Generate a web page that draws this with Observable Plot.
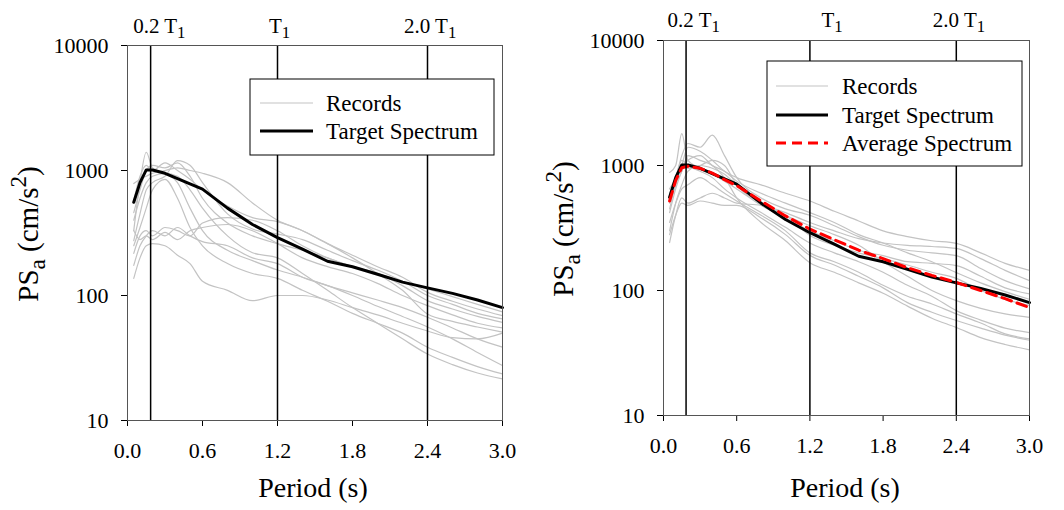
<!DOCTYPE html>
<html><head><meta charset="utf-8">
<script src="https://cdn.jsdelivr.net/npm/d3@7"></script>
<script src="https://cdn.jsdelivr.net/npm/@observablehq/plot@0.6"></script>
<style>
html,body{margin:0;padding:0;background:#fff;}
#wrap{position:relative;width:1064px;height:510px;overflow:hidden;font-family:"Liberation Serif","DejaVu Serif",serif;}
#left,#right{position:absolute;top:0;}
#left{left:0;} #right{left:532px;}
svg text{font-family:"Liberation Serif","DejaVu Serif",serif;}
</style></head><body><div id="wrap"><div id="left"></div><div id="right"></div></div>
<script>
// ---- data ----
const periods = [0.05, 0.1, 0.15, 0.2, 0.3, 0.4, 0.5, 0.6, 0.8, 1.0, 1.2, 1.4, 1.6, 1.8, 2.0, 2.2, 2.4, 2.6, 2.8, 3.0];
const targetSpectrum = [557, 800, 1010, 1010, 950, 860, 780, 710, 500, 370, 290, 235, 188, 170, 148, 128, 115, 104, 92, 80];
const averageSpectrum = [520, 760, 960, 985, 950, 870, 770, 690, 520, 395, 310, 255, 210, 180, 152, 132, 116, 100, 86, 73];
const recordsLeft = [
  [330, 800, 1400, 1050, 950, 800, 500, 330, 230, 190, 160, 140, 120, 105, 92, 80, 67, 55, 45, 38.6],
  [460, 700, 1000, 1100, 1050, 1150, 900, 600, 380, 300, 260, 230, 200, 170, 150, 130, 113, 98, 85, 74],
  [575, 900, 1100, 1000, 1150, 1000, 850, 700, 520, 420, 390, 330, 260, 200, 150, 110, 71, 62, 56, 51],
  [787, 850, 900, 950, 1000, 1050, 1000, 950, 800, 550, 400, 330, 260, 210, 170, 140, 106, 90, 78, 69],
  [275, 450, 700, 800, 900, 1200, 1100, 800, 450, 340, 310, 280, 230, 190, 160, 130, 100, 85, 72, 65],
  [217, 300, 330, 300, 350, 330, 300, 380, 420, 400, 330, 250, 200, 170, 150, 120, 91, 78, 68, 61],
  [331, 280, 300, 280, 320, 280, 330, 350, 370, 330, 260, 200, 170, 150, 125, 100, 83, 70, 60, 55],
  [174, 250, 300, 330, 300, 350, 300, 270, 250, 200, 180, 140, 120, 100, 82, 68, 56, 45, 35, 27.5],
  [137, 200, 250, 260, 250, 210, 180, 130, 110, 91, 100, 100, 92, 80, 70, 60, 52, 46, 45, 50],
  [250, 350, 500, 700, 850, 600, 350, 250, 180, 150, 137, 110, 90, 72, 60, 50, 38.6, 32, 27, 23.6],
  [400, 600, 800, 900, 950, 900, 700, 500, 300, 220, 200, 150, 110, 80, 60, 45, 34, 28, 24, 21.5]
];
const recordsRight = [
  [880, 1000, 1800, 1100, 950, 850, 750, 650, 480, 380, 300, 250, 210, 190, 170, 165, 158, 130, 105, 94],
  [600, 800, 1200, 1500, 1400, 1750, 1200, 800, 550, 450, 400, 330, 270, 230, 210, 200, 190, 150, 120, 103],
  [500, 700, 1000, 1400, 1300, 1100, 900, 800, 700, 600, 520, 430, 360, 300, 270, 250, 238, 200, 165, 145],
  [420, 650, 900, 1100, 1200, 1000, 900, 750, 600, 500, 420, 350, 280, 240, 200, 170, 139, 115, 98, 85],
  [300, 500, 700, 900, 1000, 950, 850, 700, 500, 400, 330, 280, 230, 170, 130, 100, 83, 72, 65, 61],
  [242, 400, 550, 500, 550, 600, 550, 500, 480, 400, 275, 230, 200, 180, 160, 140, 125, 100, 85, 76],
  [650, 800, 1100, 1000, 900, 800, 650, 550, 420, 320, 240, 200, 170, 140, 110, 90, 69, 58, 50, 46],
  [350, 500, 650, 700, 800, 700, 600, 520, 400, 300, 200, 170, 140, 110, 90, 78, 65, 55, 45, 41],
  [280, 400, 500, 480, 520, 500, 480, 480, 380, 280, 191, 160, 130, 105, 80, 67, 57.5, 50, 44, 40],
  [450, 700, 900, 1200, 1100, 1000, 800, 550, 350, 250, 167, 140, 115, 95, 75, 60, 50.6, 42, 37, 33.5],
  [550, 800, 1000, 950, 1000, 1100, 1000, 700, 500, 420, 350, 300, 260, 240, 230, 225, 217, 180, 145, 120]
];
const markerPeriods = [0.185, 1.2, 2.4];
const markerLabels = [["0.2 T", "1"], ["T", "1"], ["2.0 T", "1"]];
const xTicks = [0, 0.6, 1.2, 1.8, 2.4, 3.0];
const yTicks = [10, 100, 1000, 10000];
const legendLeft = ["Records", "Target Spectrum"];
const legendRight = ["Records", "Target Spectrum", "Average Spectrum"];

// ---- helpers ----
const FONT = '"Liberation Serif", "DejaVu Serif", serif';
function toRows(vals, name) { return vals.map((v, i) => ({period: periods[i], value: v, series: name})); }
function recRows(recs) { return recs.flatMap((r, k) => toRows(r, "rec" + k)); }

function richText(g, x, y, parts, size, anchor) {
  const t = g.append("text").attr("x", x).attr("y", y).attr("font-size", size)
    .attr("fill", "#000").attr("text-anchor", anchor || "start").style("font-family", FONT);
  let shift = 0;
  for (const [s, kind] of parts) {
    let target = 0, fs = size;
    if (kind === "sub") { target = size * 0.25; fs = size * 0.8; }
    if (kind === "sup") { target = -size * 0.4; fs = size * 0.8; }
    t.append("tspan").attr("dy", target - shift).attr("font-size", fs).text(s);
    shift = target;
  }
  return t;
}

function panel(el, cfg) {
  const marks = [
    Plot.line(recRows(cfg.records), {x: "period", y: "value", z: "series", stroke: "#c3c3c3", strokeWidth: 1.2, curve: "monotone-x"}),
    Plot.line(toRows(targetSpectrum, "target"), {x: "period", y: "value", stroke: "#000", strokeWidth: 3})
  ];
  if (cfg.avg) marks.push(Plot.line(toRows(averageSpectrum, "avg"), {x: "period", y: "value", stroke: "#ff0000", strokeWidth: 3, strokeDasharray: "10,6"}));
  marks.push(Plot.ruleX(markerPeriods, {stroke: "#000", strokeWidth: 1.5}));
  marks.push(Plot.frame({stroke: "#555", strokeWidth: 1}));
  const plot = Plot.plot({
    width: 532, height: 510,
    marginLeft: cfg.m[0], marginRight: cfg.m[1], marginTop: cfg.m[2], marginBottom: cfg.m[3],
    style: {fontFamily: FONT, fontSize: "22px", color: "#000", background: "#fff", overflow: "visible"},
    x: {domain: [0, 3], ticks: xTicks, tickFormat: d => d.toFixed(1), tickSize: 6, tickPadding: 16, label: null},
    y: {type: "log", domain: [10, 10000], ticks: yTicks, tickFormat: d => String(d), tickSize: 6, tickPadding: 13, label: null},
    marks
  });
  const svg = d3.select(plot);
  const xs = plot.scale("x");
  markerPeriods.forEach((p, i) => {
    richText(svg, xs.apply(p) + cfg.labelDx[i], cfg.labelY, [[markerLabels[i][0], ""], [markerLabels[i][1], "sub"]], 21, "start");
  });
  richText(svg, cfg.xLabelX, 497, [["Period (s)", ""]], 28, "middle");
  const gy = svg.append("g").attr("transform", `translate(${cfg.yLabel[0]},${cfg.yLabel[1]}) rotate(-90)`);
  richText(gy, 0, 0, [["PS", ""], ["a", "sub"], [" (cm/s", ""], ["2", "sup"], [")", ""]], 29, "middle");
  const L = cfg.legend;
  const lg = svg.append("g");
  lg.append("rect").attr("x", L.x).attr("y", L.y).attr("width", L.w).attr("height", L.h)
    .attr("fill", "#fff").attr("stroke", "#000").attr("stroke-width", 1);
  const styles = [
    {stroke: "#c3c3c3", w: 1.2, dash: null},
    {stroke: "#000", w: 3, dash: null},
    {stroke: "#ff0000", w: 3, dash: "10,6"}
  ];
  L.items.forEach((name, i) => {
    const yy = L.rows[i];
    const ln = lg.append("line").attr("x1", L.lx1).attr("x2", L.lx2).attr("y1", yy).attr("y2", yy)
      .attr("stroke", styles[i].stroke).attr("stroke-width", styles[i].w);
    if (styles[i].dash) ln.attr("stroke-dasharray", styles[i].dash);
    richText(lg, L.tx, yy + 8, [[name, ""]], 23, "start");
  });
  el.appendChild(plot);
}

panel(document.getElementById("left"), {
  records: recordsLeft, avg: false,
  m: [127, 30, 45, 90],
  labelDx: [-17, -8, -23], labelY: 33,
  xLabelX: 313, yLabel: [38, 234],
  legend: {x: 250, y: 79, w: 244, h: 76, lx1: 260, lx2: 313, tx: 326, rows: [103, 131], items: legendLeft}
});
panel(document.getElementById("right"), {
  records: recordsRight, avg: true,
  m: [131, 35, 40, 95],
  labelDx: [-18, 12, -23], labelY: 27,
  xLabelX: 313, yLabel: [41, 229],
  legend: {x: 235, y: 61, w: 255, h: 105, lx1: 244, lx2: 296, tx: 310, rows: [86, 115, 143], items: legendRight}
});
</script>
</body></html>
